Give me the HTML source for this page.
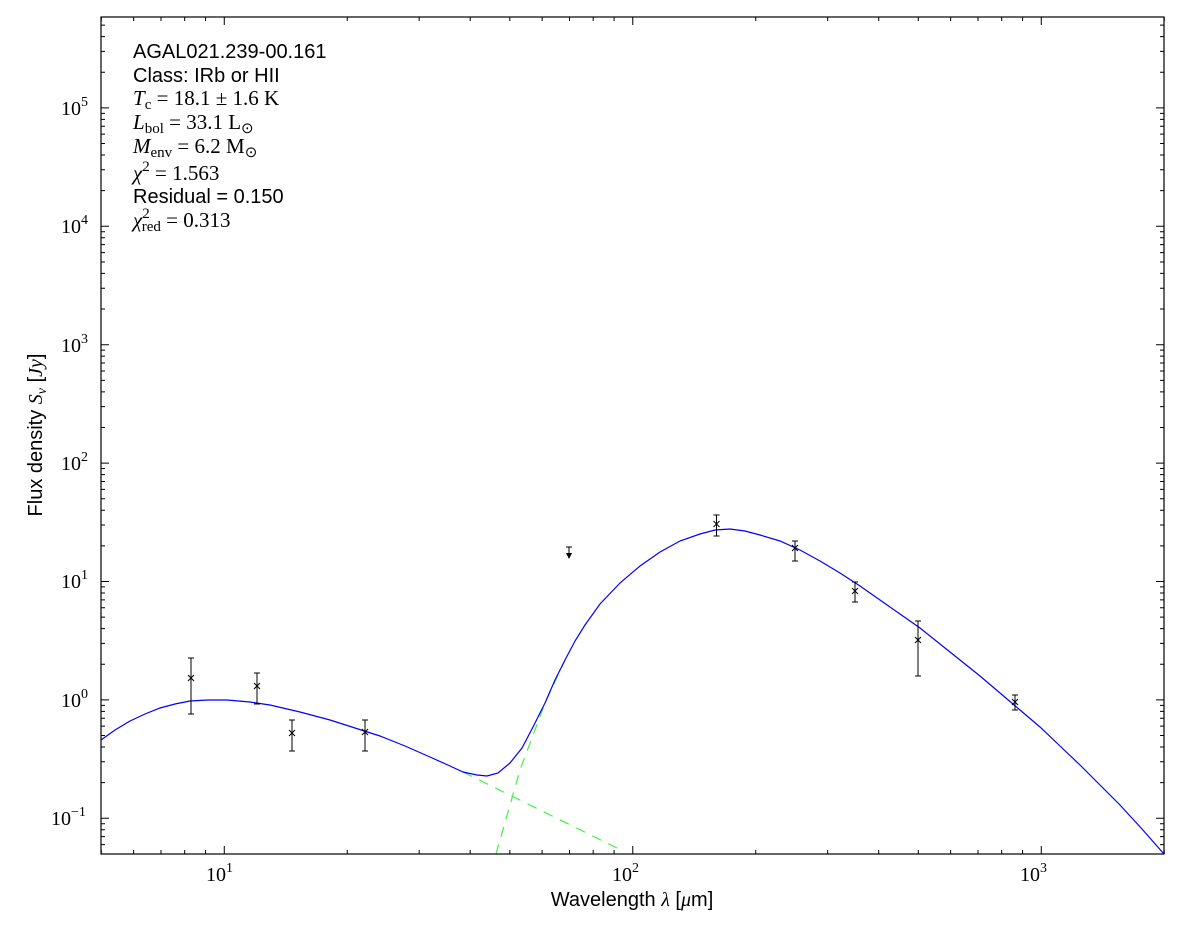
<!DOCTYPE html>
<html><head><meta charset="utf-8"><style>
html,body{margin:0;padding:0;background:#fff;}
svg{display:block;}
.s{font-family:"Liberation Serif",serif;}
.a{font-family:"Liberation Sans",sans-serif;}
</style></head><body>
<svg width="1200" height="933" viewBox="0 0 1200 933" xmlns="http://www.w3.org/2000/svg">
<rect width="1200" height="933" fill="#fff"/>
<g id="ticks" stroke="#000" stroke-width="1"></g>
<polyline points="463,772 617,848" fill="none" stroke="#44ee44" stroke-width="1.2" stroke-dasharray="10,8"/>
<polyline points="496,854 520,770 545,703 565,660" fill="none" stroke="#44ee44" stroke-width="1.2" stroke-dasharray="10,8"/>
<polyline fill="none" stroke="#0000ff" stroke-width="1.2" points="101,740 115,730 130,721 145,714 160,708 175,704 190,701 208,700 227,700 250,702 270,705 300,712 330,720 355,728 380,736 405,746 430,757 450,766 463,772 477,775 487,776 498,773 510,763 522,748 533,727 545,703 555,680 565,660 575,641 585,625 600,604 620,583 640,566 660,552 680,541 700,534 715,530 730,529 745,531 760,535 780,541 800,550 820,561 840,573 860,586 880,600 900,614 920,628 940,644 960,660 980,676 1000,693 1020,710 1040,727 1060,746 1080,765 1100,785 1120,805 1142,829 1164,854"/>
<g stroke="#000" stroke-width="1" fill="none">
<path d="M191,658V714M188,658h6M188,714h6M188,675l6,6M194,675l-6,6"/>
<path d="M257,673V704M254,673h6M254,704h6M254,683l6,6M260,683l-6,6"/>
<path d="M292,720V751M289,720h6M289,751h6M289,730l6,6M295,730l-6,6"/>
<path d="M365,720V751M362,720h6M362,751h6M362,729l6,6M368,729l-6,6"/>
<path d="M569,547V555M566,547h6"/>
<path d="M716.5,515V536M713.5,515h6M713.5,536h6M713.5,521l6,6M719.5,521l-6,6"/>
<path d="M795,541V561M792,541h6M792,561h6M792,545l6,6M798,545l-6,6"/>
<path d="M855,582V602M852,582h6M852,602h6M852,588l6,6M858,588l-6,6"/>
<path d="M918,621V676M915,621h6M915,676h6M915,637l6,6M921,637l-6,6"/>
<path d="M1015,695V710M1012,695h6M1012,710h6M1012,699l6,6M1018,699l-6,6"/>
</g>
<path d="M566,553L572,553L569,559Z" fill="#000"/>
<rect x="101" y="17" width="1063" height="837" fill="none" stroke="#000" stroke-width="1.2"/>
<g class="s" font-size="20" fill="#000">
<text x="206" y="881">10<tspan dy="-9" font-size="14">1</tspan></text>
<text x="612" y="881">10<tspan dy="-9" font-size="14">2</tspan></text>
<text x="1020" y="881">10<tspan dy="-9" font-size="14">3</tspan></text>
</g>
<g class="s" font-size="20" fill="#000">
<text x="51" y="825">10<tspan dy="-9" font-size="14">−1</tspan></text>
<text x="61" y="707">10<tspan dy="-9" font-size="14">0</tspan></text>
<text x="61" y="588">10<tspan dy="-9" font-size="14">1</tspan></text>
<text x="61" y="470">10<tspan dy="-9" font-size="14">2</tspan></text>
<text x="61" y="352">10<tspan dy="-9" font-size="14">3</tspan></text>
<text x="61" y="233">10<tspan dy="-9" font-size="14">4</tspan></text>
<text x="61" y="115">10<tspan dy="-9" font-size="14">5</tspan></text>
</g>
<text class="a" x="632" y="906" font-size="20" text-anchor="middle">Wavelength <tspan class="s" font-style="italic">λ</tspan> [<tspan class="s" font-style="italic">μ</tspan>m]</text>
<text class="a" font-size="20" transform="translate(42,435) rotate(-90)" text-anchor="middle">Flux density <tspan class="s" font-style="italic">S</tspan><tspan class="s" font-style="italic" font-size="14" dy="4">ν</tspan><tspan dy="-4"> [</tspan><tspan class="s" font-style="italic">Jy</tspan>]</text>
<g font-size="21" fill="#000">
<text class="a" x="133" y="58" font-size="20">AGAL021.239-00.161</text>
<text class="a" x="133" y="82" font-size="20">Class: IRb or HII</text>
<text class="s" x="133" y="105"><tspan font-style="italic">T</tspan><tspan font-size="15" dy="4">c</tspan><tspan dy="-4"> = 18.1 ± 1.6 K</tspan></text>
<text class="s" x="133" y="129"><tspan font-style="italic">L</tspan><tspan font-size="15" dy="4">bol</tspan><tspan dy="-4"> = 33.1 L</tspan><tspan font-size="15" dy="4">⊙</tspan></text>
<text class="s" x="133" y="153"><tspan font-style="italic">M</tspan><tspan font-size="15" dy="4">env</tspan><tspan dy="-4"> = 6.2 M</tspan><tspan font-size="15" dy="4">⊙</tspan></text>
<text class="s" x="133" y="180"><tspan font-style="italic">χ</tspan><tspan font-size="15" dy="-9">2</tspan><tspan dy="9"> = 1.563</tspan></text>
<text class="a" x="133" y="203" font-size="20">Residual = 0.150</text>
<text class="s" x="133" y="227"><tspan font-style="italic">χ</tspan><tspan font-size="15" dy="-9">2</tspan><tspan font-size="15" dx="-8" dy="13">red</tspan><tspan dy="-4"> = 0.313</tspan></text>
</g>
<script>
(function(){
var g=document.getElementById('ticks'),ns='http://www.w3.org/2000/svg',d='';
var X0=101.3,DX=408.5,L=Math.log10;
function xp(v){return X0+DX*(L(v)-L(5));}
function yp(v){return 818.3-118.4*(L(v)+1);}
for(var e=0;e<4;e++)for(var m=1;m<10;m++){var v=m*Math.pow(10,e);if(v<5||v>2000)continue;var x=xp(v),len=(m==1)?8:4;d+='M'+x+',854v-'+len+'M'+x+',17v'+len;}
for(var e=-2;e<6;e++)for(var m=1;m<10;m++){var v=m*Math.pow(10,e);var y=yp(v);if(y<17||y>854)continue;var len=(m==1)?8:4;d+='M101,'+y+'h'+len+'M1164,'+y+'h-'+len;}
var p=document.createElementNS(ns,'path');p.setAttribute('d',d);g.appendChild(p);
})();
</script>
</svg>
</body></html>
